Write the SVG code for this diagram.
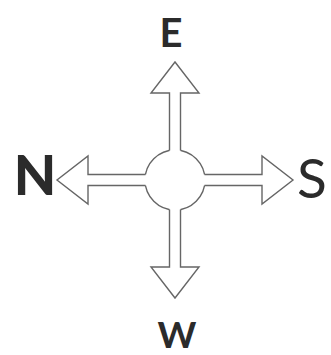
<svg xmlns="http://www.w3.org/2000/svg" width="331" height="355" viewBox="0 0 331 355">
<style>
.bg{fill:#ffffff}
.fillw{fill:#ffffff;stroke:none}
.out{fill:none;stroke:#666666;stroke-width:1.4;stroke-linejoin:miter}
.hub{fill:#ffffff;stroke:#666666;stroke-width:1.4}
.lbl{font-family:Lato,"Open Sans","Liberation Sans",sans-serif;fill:#2b2b2b;text-anchor:middle}
</style>
<rect class="bg" x="0" y="0" width="331" height="355"/>
<g id="hub">
<circle class="hub" cx="175" cy="180" r="30"/>
</g>
<g id="connectors">
<g id="arrow-E">
<polygon class="fillw" points="169.5,160 169.5,93 151,93 175,62 199,93 180.5,93 180.5,160"/>
<polyline class="out" points="169.5,150.5 169.5,93 151,93 175,62 199,93 180.5,93 180.5,150.5"/>
</g>
<g id="arrow-W">
<polygon class="fillw" points="169.5,200 169.5,267 151,267 175,298 199,267 180.5,267 180.5,200"/>
<polyline class="out" points="169.5,209.5 169.5,267 151,267 175,298 199,267 180.5,267 180.5,209.5"/>
</g>
<g id="arrow-N">
<polygon class="fillw" points="155,174.5 88,174.5 88,156 57,180 88,204 88,185.5 155,185.5"/>
<polyline class="out" points="145.5,174.5 88,174.5 88,156 57,180 88,204 88,185.5 145.5,185.5"/>
</g>
<g id="arrow-S">
<polygon class="fillw" points="195,174.5 262,174.5 262,156 293,180 262,204 262,185.5 195,185.5"/>
<polyline class="out" points="204.5,174.5 262,174.5 262,156 293,180 262,204 262,185.5 204.5,185.5"/>
</g>
</g>
<g id="label-E"><text class="lbl" x="171" y="47" font-size="40" font-weight="700">E</text></g>
<g id="label-W"><text class="lbl" x="177" y="348" font-size="37" font-weight="700">W</text></g>
<g id="label-N"><text class="lbl" x="35" y="195" font-size="55" font-weight="900">N</text></g>
<g id="label-S"><text class="lbl" x="312" y="198" font-size="55" font-weight="400">S</text></g>
</svg>
